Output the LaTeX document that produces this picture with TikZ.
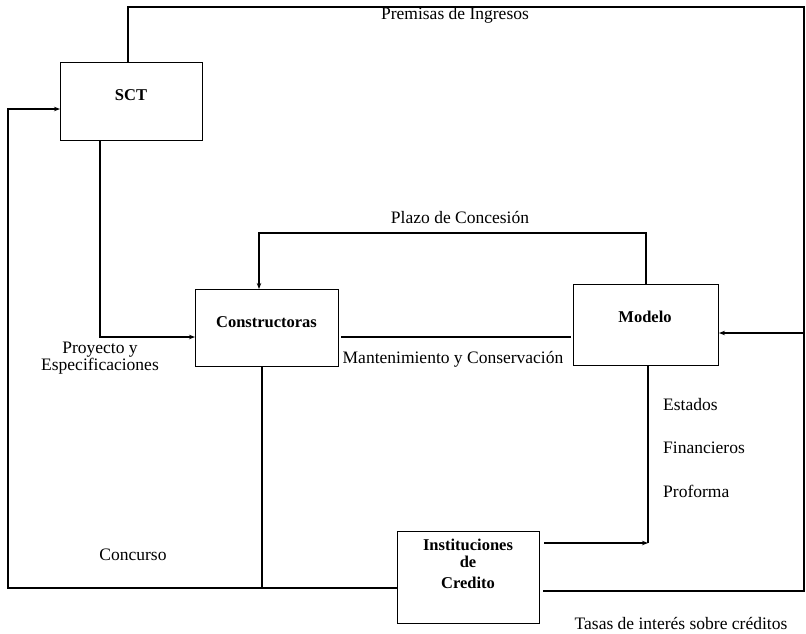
\documentclass[tikz,border=0pt]{standalone}
\usepackage{fontspec}
\setmainfont{Liberation Serif}
\usetikzlibrary{arrows.meta}
\begin{document}
\begin{tikzpicture}[x=1pt,y=-1pt,
  box/.style={draw, line width=1pt, inner sep=0pt, anchor=north west},
  conn/.style={line width=1.7pt},
  arr/.style={conn, -{Stealth[length=6pt,width=4.5pt]}},
  lbl/.style={font=\fontsize{17.5}{21}\selectfont, inner sep=0pt, anchor=base},
  blbl/.style={font=\bfseries\fontsize{16.5}{19}\selectfont, inner sep=0pt, anchor=base}]
\useasboundingbox (0,0) rectangle (806,633);
% boxes
\node[box, minimum width=142pt, minimum height=78pt] (sct) at (60,62) {};
\node[box, minimum width=143pt, minimum height=77pt] (cons) at (195,289) {};
\node[box, minimum width=145pt, minimum height=81pt] (mod) at (573,284) {};
\node[box, minimum width=142pt, minimum height=92pt] (inst) at (397,531) {};
% box texts
\node[blbl] (sctt) at (131,100) {SCT};
\node[blbl] (const) at (266.5,327) {Constructoras};
\node[blbl] (modt) at (645,322) {Modelo};
\node[blbl] (inst1) at (468,550) {Instituciones};
\node[blbl] (inst2) at (468,567) {de};
\node[blbl] (inst3) at (468,588) {Credito};
% coordinates
\coordinate (tl) at (128,7);
\coordinate (tr) at (804,7);
\coordinate (br) at (804,591);
\coordinate (mr) at (804,333);
\coordinate (lb) at (8,588);
\coordinate (ll) at (8,109);
% connectors
\draw[conn, shorten >=3pt] (tl |- sct.north) -- (tl) -- (tr) -- (br) -- (inst.east |- br);
\draw[arr] (mr) -- (mr -| mod.east);
\draw[arr] (inst.west |- lb) -- (lb) -- (ll) -- (sct.west |- ll);
\draw[conn] (262,0 |- cons.south) -- (262,588);
\draw[arr] (100,0 |- sct.south) -- (100,337) -- (cons.west |- 0,337);
\draw[arr] (646,0 |- mod.north) -- (646,233) -- (259,233) -- (259,0 |- cons.north);
\draw[conn, shorten <=2pt, shorten >=2pt] (cons.east |- 0,337) -- (mod.west |- 0,337);
\draw[conn] (648,0 |- mod.south) -- (648,543);
\draw[arr, shorten <=4pt] (inst.east |- 0,543) -- (648,543);
% labels
\node[lbl] (prem) at (455,19) {Premisas de Ingresos};
\node[lbl] (plazo) at (460,223) {Plazo de Concesión};
\node[lbl] (mant) at (453,363) {Mantenimiento y Conservación};
\node[lbl] (proy) at (100,353) {Proyecto y};
\node[lbl] (espec) at (100,370) {Especificaciones};
\node[lbl] (conc) at (133,560) {Concurso};
\node[lbl, anchor=base west] (est) at (663,410) {Estados};
\node[lbl, anchor=base west] (fin) at (663,453) {Financieros};
\node[lbl, anchor=base west] (prof) at (663,497) {Proforma};
\node[lbl] (tasas) at (681,629) {Tasas de interés sobre créditos};
\end{tikzpicture}
\end{document}
